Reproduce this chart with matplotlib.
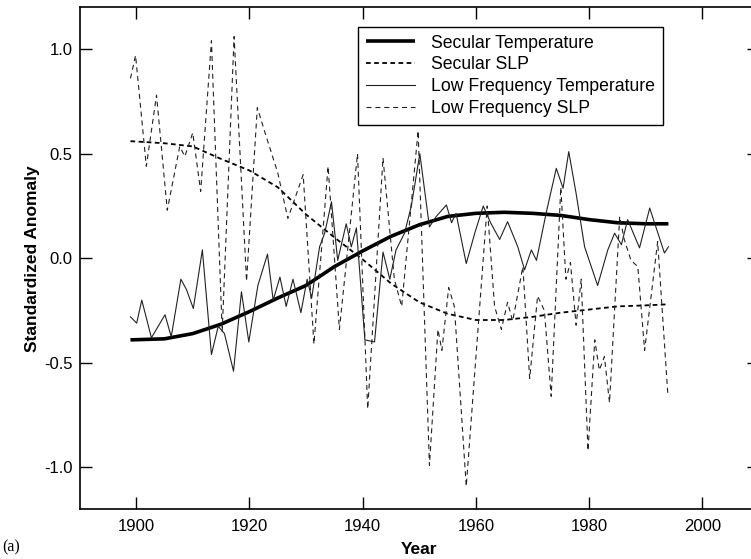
import matplotlib
matplotlib.use("Agg")
import matplotlib.pyplot as plt

# Secular (trend) components, read every five years
sec_years = [1899, 1905, 1910, 1915, 1920, 1925, 1930, 1935, 1940, 1945,
             1950, 1955, 1960, 1965, 1970, 1975, 1980, 1985, 1990, 1994]
sec_temp = [-0.39, -0.385, -0.36, -0.315, -0.255, -0.19, -0.13, -0.04, 0.035, 0.105,
            0.16, 0.20, 0.215, 0.22, 0.215, 0.205, 0.185, 0.17, 0.165, 0.165]
sec_slp = [0.56, 0.55, 0.535, 0.475, 0.42, 0.34, 0.21, 0.10, -0.005, -0.12,
           -0.21, -0.265, -0.295, -0.295, -0.28, -0.26, -0.245, -0.23, -0.225, -0.22]

# Low frequency temperature, turning points
lft_years = [1899.0, 1900.1, 1901.0, 1902.7, 1905.1, 1906.2, 1907.9, 1908.9, 1910.1, 1911.7,
             1913.3, 1914.5, 1915.6, 1917.2, 1918.6, 1919.9, 1921.5, 1923.2, 1924.2, 1925.4,
             1926.5, 1927.7, 1929.1, 1930.2, 1931.0, 1932.4, 1933.3, 1934.5, 1935.6, 1937.1,
             1938.0, 1938.9, 1940.4, 1942.1, 1943.6, 1944.8, 1945.9, 1947.4, 1948.6, 1950.1,
             1951.8, 1953.0, 1954.8, 1955.7, 1956.5, 1958.3, 1959.8, 1961.3, 1962.6, 1964.2,
             1965.6, 1967.4, 1968.6, 1969.8, 1970.7, 1972.4, 1974.2, 1975.4, 1976.4, 1977.7,
             1979.2, 1981.5, 1983.3, 1984.5, 1985.7, 1986.8, 1988.9, 1990.7, 1993.3, 1994.0]
lft_vals = [-0.28, -0.31, -0.20, -0.38, -0.27, -0.375, -0.10, -0.15, -0.24, 0.04,
            -0.46, -0.325, -0.36, -0.54, -0.16, -0.40, -0.13, 0.02, -0.20, -0.09,
            -0.23, -0.10, -0.26, -0.10, -0.19, 0.055, 0.12, 0.27, -0.01, 0.165,
            0.055, 0.145, -0.39, -0.40, 0.03, -0.10, 0.04, 0.12, 0.25, 0.50,
            0.15, 0.20, 0.255, 0.17, 0.215, -0.025, 0.12, 0.25, 0.17, 0.09,
            0.175, 0.055, -0.055, 0.04, -0.01, 0.215, 0.43, 0.335, 0.51, 0.31,
            0.055, -0.13, 0.04, 0.12, 0.065, 0.185, 0.05, 0.24, 0.025, 0.055]

# Low frequency sea level pressure, turning points
lfs_years = [1899.0, 1899.9, 1901.8, 1903.6, 1905.5, 1907.7, 1908.6, 1910.0, 1911.4, 1913.3,
             1915.2, 1917.3, 1919.5, 1921.4, 1923.0, 1925.0, 1926.8, 1929.5, 1931.4, 1933.9,
             1935.9, 1939.1, 1940.9, 1943.6, 1945.6, 1946.9, 1949.8, 1951.8, 1953.3, 1954.0,
             1955.2, 1956.2, 1958.3, 1962.0, 1963.3, 1964.5, 1965.6, 1966.5, 1968.3, 1969.5,
             1970.9, 1972.1, 1973.3, 1975.0, 1975.9, 1976.7, 1977.7, 1978.6, 1979.8, 1981.0,
             1981.8, 1982.7, 1983.6, 1985.4, 1986.2, 1987.4, 1988.6, 1989.8, 1992.1, 1993.9]
lfs_vals = [0.86, 0.97, 0.44, 0.78, 0.23, 0.535, 0.487, 0.60, 0.32, 1.04,
            -0.35, 1.06, -0.11, 0.72, 0.58, 0.41, 0.19, 0.40, -0.41, 0.44,
            -0.34, 0.50, -0.72, 0.48, -0.10, -0.23, 0.61, -0.99, -0.34, -0.44,
            -0.14, -0.23, -1.09, 0.25, -0.23, -0.34, -0.21, -0.30, -0.04, -0.575,
            -0.18, -0.25, -0.66, 0.34, -0.10, -0.02, -0.32, -0.10, -0.92, -0.39,
            -0.535, -0.47, -0.69, 0.20, 0.09, -0.01, -0.04, -0.44, 0.08, -0.65]

x_ticks = [1900, 1920, 1940, 1960, 1980, 2000]
y_ticks = [-1.0, -0.5, 0.0, 0.5, 1.0]

plt.rcParams['font.family'] = ['Liberation Sans', 'DejaVu Sans']

fig = plt.figure(figsize=(7.51, 5.59), dpi=100)
# axes run a little past the right edge of the figure
ax = fig.add_axes([79.5 / 751, 1 - 509.3 / 559, (759 - 79.5) / 751, (509.3 - 7.3) / 559])

ax.plot(sec_years, sec_temp, color='black', linewidth=2.6, solid_capstyle='butt',
        label='Secular Temperature')
ax.plot(sec_years, sec_slp, color='black', linewidth=1.3, linestyle=(0, (2.6, 1.9)),
        label='Secular SLP')
ax.plot(lft_years, lft_vals, color='#222222', linewidth=0.8,
        label='Low Frequency Temperature')
ax.plot(lfs_years, lfs_vals, color='#222222', linewidth=0.8, linestyle=(0, (4.5, 3.5)),
        label='Low Frequency SLP')

ax.set_xlim(1890, 2010)
ax.set_ylim(-1.2, 1.2)
ax.set_xticks(x_ticks)
ax.set_yticks(y_ticks)
ax.set_yticklabels([f'{v:.1f}' for v in y_ticks])
ax.tick_params(direction='in', length=8.5, width=1, top=True, right=True,
               labelsize=12, pad=7)
ax.tick_params(axis='y', pad=5)
for side in ax.spines.values():
    side.set_linewidth(1.2)

ax.set_xlabel('Year', fontsize=12.5, fontweight='bold', labelpad=6)
ax.set_ylabel('Standardized Anomaly', fontsize=12.5, fontweight='bold', labelpad=3)

leg = ax.legend(loc='upper left', bbox_to_anchor=(357.7 / 751, 1 - 26.7 / 559),
                bbox_transform=fig.transFigure, borderaxespad=0, fontsize=12.7,
                handlelength=2.8, handletextpad=0.9, labelspacing=0.27,
                borderpad=0.45, fancybox=False, framealpha=1)
leg.get_frame().set_edgecolor('black')
leg.get_frame().set_linewidth(1.0)

fig.text(2 / 751, 1 - 547 / 559, '(a)', fontsize=11.5, va='center', ha='left',
         family=['Liberation Serif', 'DejaVu Serif'])

fig.savefig('out.png', dpi=100)
